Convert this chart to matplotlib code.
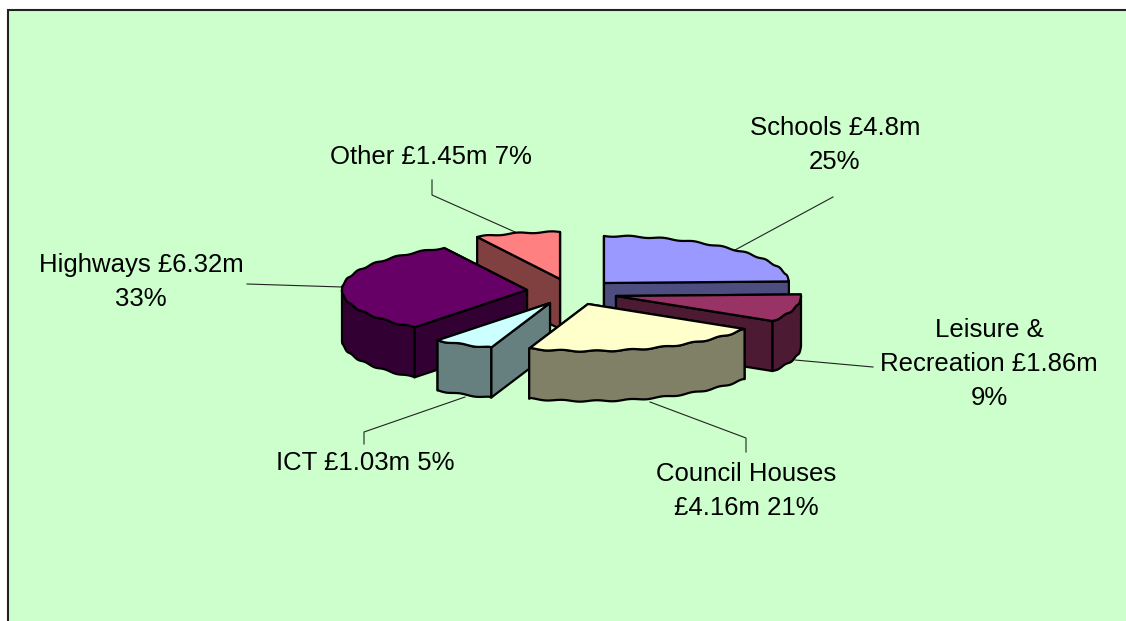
import numpy as np
import matplotlib
matplotlib.use('Agg')
import matplotlib.pyplot as plt
from matplotlib.patches import Polygon

plt.rcParams['font.family'] = ['Liberation Sans', 'DejaVu Sans']

# Capital spend per service, GBP millions
services = ['Schools', 'Leisure & Recreation', 'Council Houses', 'ICT', 'Highways', 'Other']
spend = [4.8, 1.86, 4.16, 1.03, 6.32, 1.45]
labels = ['Schools £4.8m\n25%', 'Leisure &\nRecreation £1.86m\n9%', 'Council Houses\n£4.16m 21%',
          'ICT £1.03m 5%', 'Highways £6.32m\n33%', 'Other £1.45m 7%']

top_colors = ['#9999FF', '#993366', '#FFFFCC', '#CCFFFF', '#660066', '#FF8080']
side_colors = ['#4D4D80', '#4D1A33', '#808066', '#668080', '#330033', '#804040']

# Pie geometry in pixels
cx, cy = 568, 292
rx, ry = 185, 47
depth = 50
explode = [(36, -9), (48, 4), (20, 12), (-18, 11), (-41, -2), (-8, -13)]
label_pos = [(835, 145), (989, 364), (746, 491), (365, 463), (141, 282), (431, 157)]
leaders = [[(735, 250), (833, 197)],
           [(795, 360), (873, 367)],
           [(650, 402), (746, 438), (746, 452)],
           [(465, 397), (364, 432), (364, 444)],
           [(342, 287), (247, 284)],
           [(515, 232), (432, 195), (432, 180)]]

# painter's order, back to front
draw_order = [5, 0, 4, 1, 3, 2]


def rim(ax0, ay0, a0, a1):
    # slightly wavy outer edge, angles clockwise from 12 o'clock
    t = np.radians(np.linspace(a0, a1, max(int((a1 - a0) * 2), 2) + 1))
    wob = 0.7 * np.sin(t * 34)
    wob[0] = wob[-1] = 0
    return np.column_stack([ax0 + rx * np.sin(t), ay0 - ry * np.cos(t) + wob])


fig = plt.figure(figsize=(11.26, 6.21), dpi=100, facecolor='white')
ax = fig.add_axes([0, 0, 1, 1])
ax.set_xlim(0, 1126)
ax.set_ylim(621, 0)
ax.axis('off')

# chart area, runs off the right and bottom of the figure
ax.add_patch(plt.Rectangle((8, 10), 1140, 640, facecolor='#CCFFCC', edgecolor='#222222', lw=1.5))

edges = np.cumsum([0] + spend) / sum(spend) * 360

for seg in leaders:
    xs, ys = zip(*seg)
    ax.plot(xs, ys, color='#222222', lw=0.8, zorder=1)

z = 2
for i in draw_order:
    a0, a1 = edges[i], edges[i + 1]
    ax0, ay0 = cx + explode[i][0], cy + explode[i][1]
    pts = rim(ax0, ay0, a0, a1)
    style = dict(facecolor=side_colors[i], edgecolor='black', lw=1.6, joinstyle='round')

    # radial walls, the one further back goes first
    walls = sorted([pts[0], pts[-1]], key=lambda p: p[1])
    for p in walls:
        quad = [(ax0, ay0), p, (p[0], p[1] + depth), (ax0, ay0 + depth)]
        ax.add_patch(Polygon(quad, closed=True, zorder=z, **style))
        z += 1

    # outer wall, front half only
    f0, f1 = max(a0, 90), min(a1, 270)
    if f1 > f0:
        front = rim(ax0, ay0, f0, f1)
        lower = front[::-1] + [0, depth]
        ax.add_patch(Polygon(np.vstack([front, lower]), closed=True, zorder=z, **style))
        z += 1

    top = np.vstack([[ax0, ay0], pts])
    ax.add_patch(Polygon(top, closed=True, facecolor=top_colors[i], edgecolor='black',
                         lw=1.6, joinstyle='round', zorder=z))
    z += 1

for lab, (x, y) in zip(labels, label_pos):
    ax.text(x, y, lab, ha='center', va='center', fontsize=18.5, color='black',
            linespacing=1.52, zorder=z)

fig.savefig('out.png', dpi=100, facecolor='white')
